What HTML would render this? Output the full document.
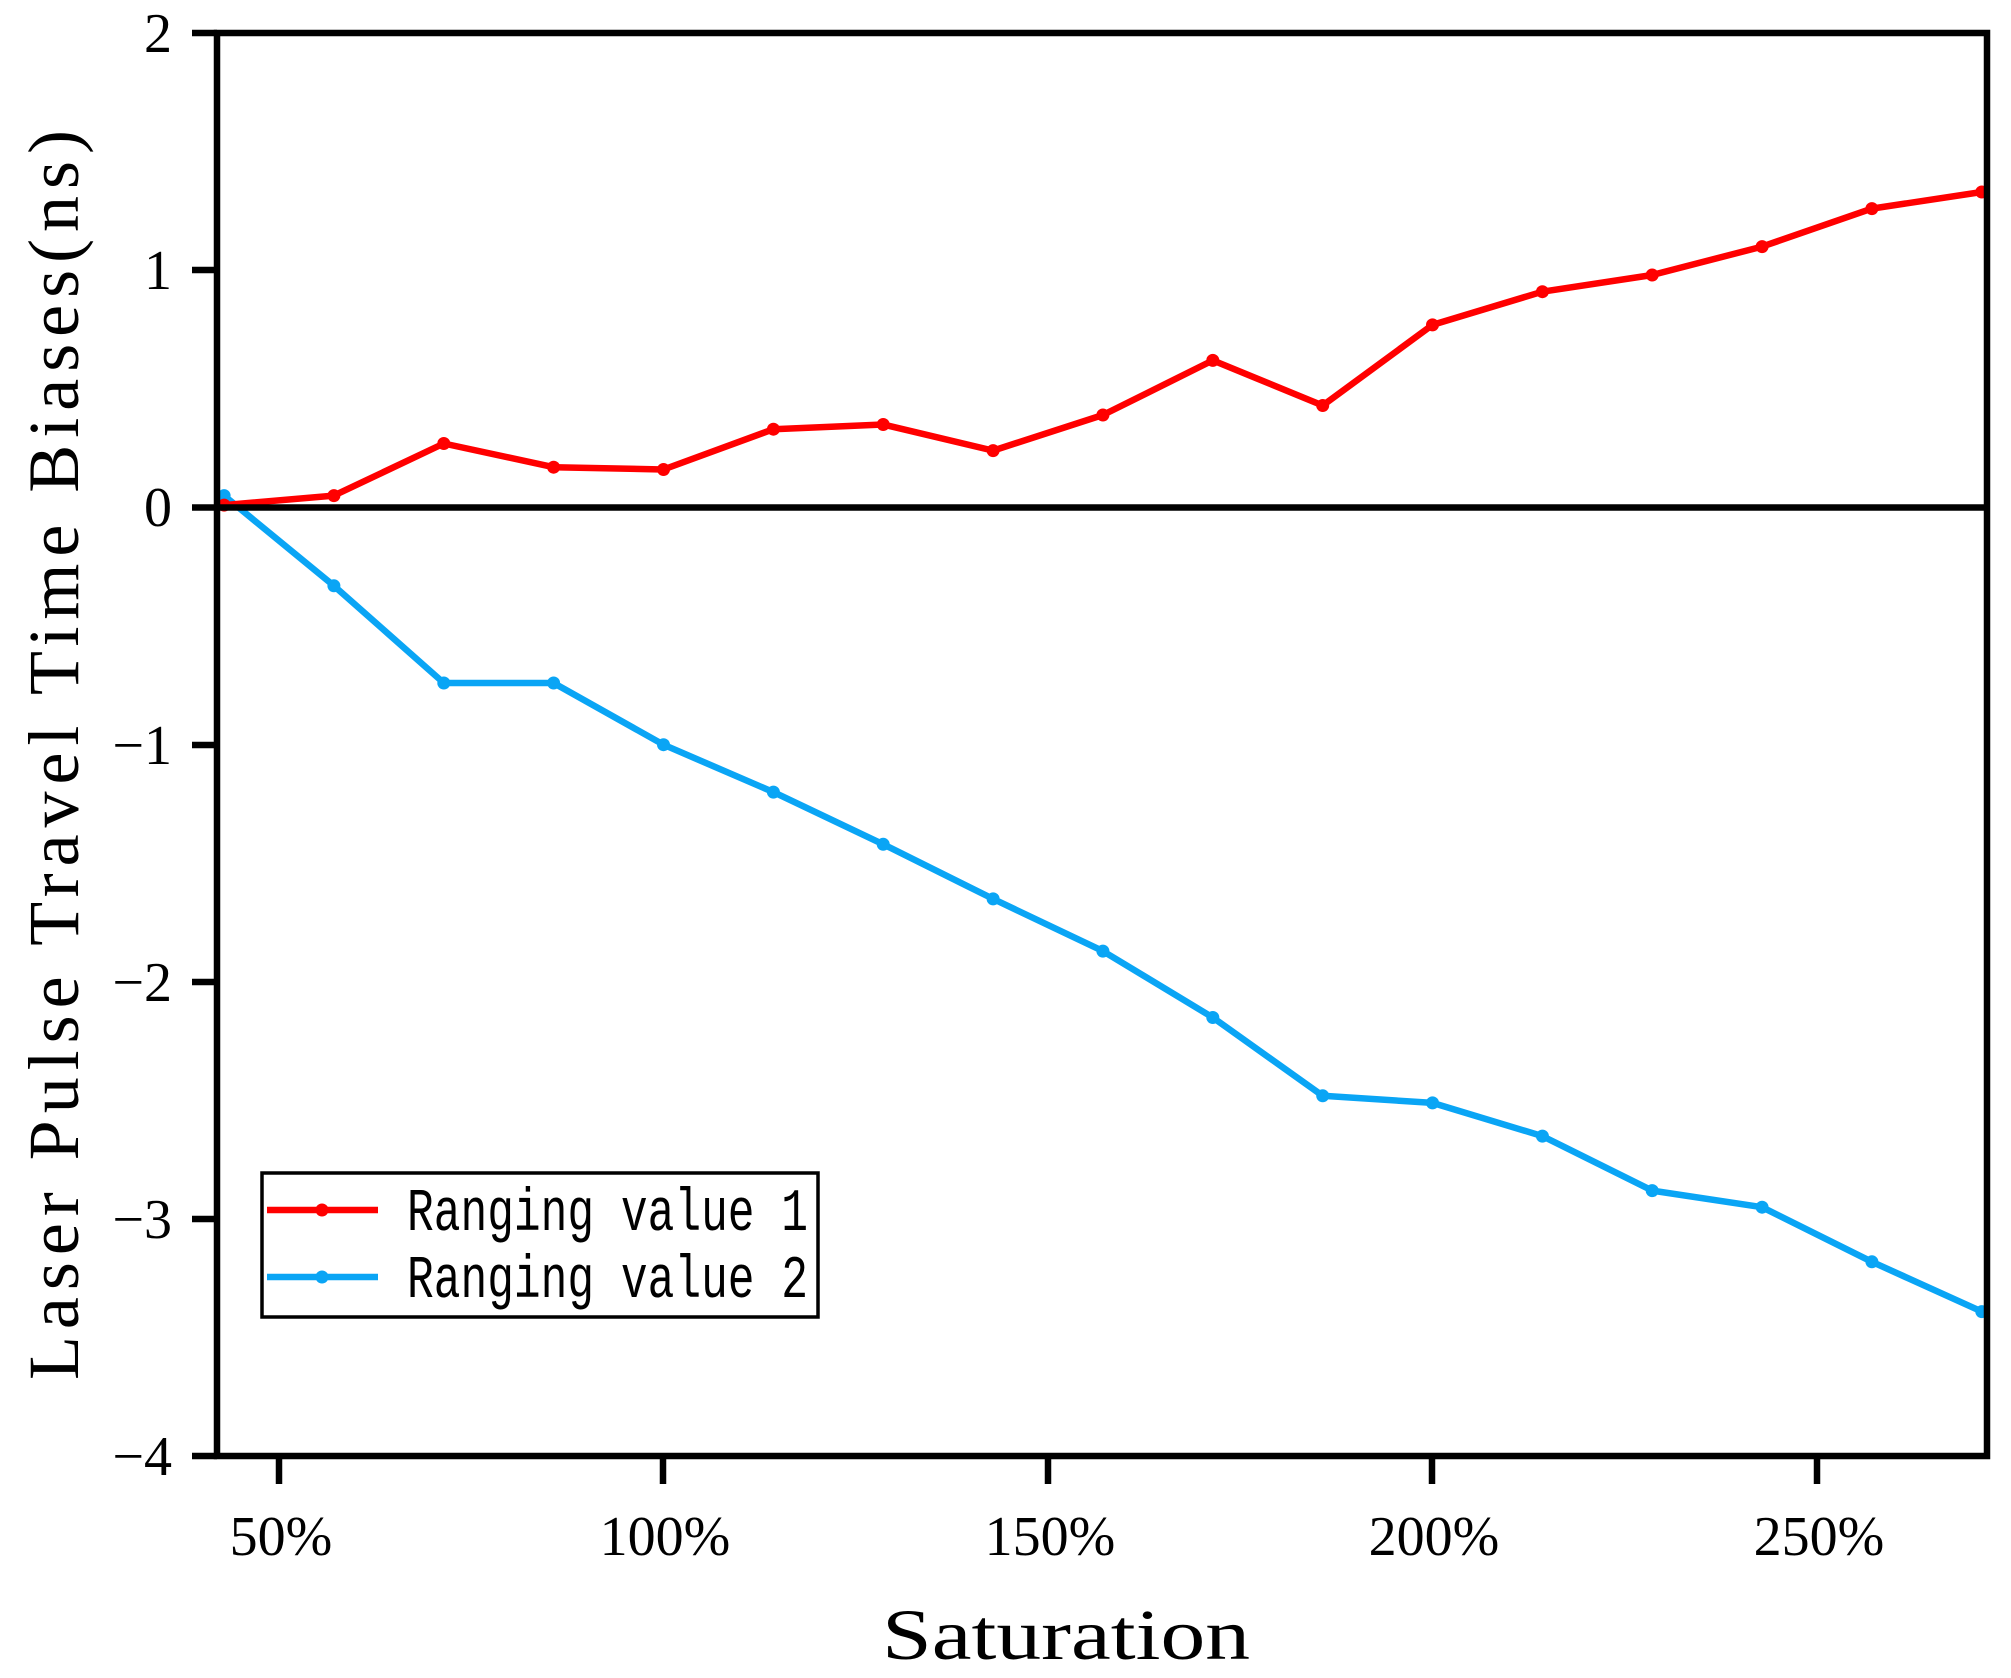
<!DOCTYPE html>
<html><head><meta charset="utf-8"><style>html,body{margin:0;padding:0;background:#fff}svg{display:block}</style></head>
<body>
<svg width="2011" height="1678" viewBox="0 0 2011 1678" xmlns="http://www.w3.org/2000/svg" font-family="Liberation Serif, serif">
<rect width="2011" height="1678" fill="#fff"/>
<g fill="none" stroke-width="6.5" stroke-linejoin="round">
<polyline stroke="#0aa5f5" points="224.1,495.6 333.9,585.8 443.8,683.0 553.6,683.0 663.5,744.7 773.4,792.1 883.2,844.3 993.1,898.9 1102.9,951.1 1212.8,1017.5 1322.7,1095.8 1432.5,1102.9 1542.4,1136.1 1652.2,1190.6 1762.1,1207.2 1871.9,1261.8 1981.8,1311.6"/>
<polyline stroke="#ff0000" points="224.1,505.1 333.9,495.6 443.8,443.5 553.6,467.2 663.5,469.5 773.4,429.2 883.2,424.5 993.1,450.6 1102.9,415.0 1212.8,360.4 1322.7,405.5 1432.5,324.9 1542.4,291.7 1652.2,275.0 1762.1,246.6 1871.9,208.6 1981.8,192.0"/>
</g>
<g fill="#0aa5f5">
<circle cx="224.1" cy="495.6" r="6.5"/><circle cx="333.9" cy="585.8" r="6.5"/><circle cx="443.8" cy="683.0" r="6.5"/><circle cx="553.6" cy="683.0" r="6.5"/><circle cx="663.5" cy="744.7" r="6.5"/><circle cx="773.4" cy="792.1" r="6.5"/><circle cx="883.2" cy="844.3" r="6.5"/><circle cx="993.1" cy="898.9" r="6.5"/><circle cx="1102.9" cy="951.1" r="6.5"/><circle cx="1212.8" cy="1017.5" r="6.5"/><circle cx="1322.7" cy="1095.8" r="6.5"/><circle cx="1432.5" cy="1102.9" r="6.5"/><circle cx="1542.4" cy="1136.1" r="6.5"/><circle cx="1652.2" cy="1190.6" r="6.5"/><circle cx="1762.1" cy="1207.2" r="6.5"/><circle cx="1871.9" cy="1261.8" r="6.5"/><circle cx="1981.8" cy="1311.6" r="6.5"/>
</g>
<g fill="#ff0000">
<circle cx="224.1" cy="505.1" r="6.5"/><circle cx="333.9" cy="495.6" r="6.5"/><circle cx="443.8" cy="443.5" r="6.5"/><circle cx="553.6" cy="467.2" r="6.5"/><circle cx="663.5" cy="469.5" r="6.5"/><circle cx="773.4" cy="429.2" r="6.5"/><circle cx="883.2" cy="424.5" r="6.5"/><circle cx="993.1" cy="450.6" r="6.5"/><circle cx="1102.9" cy="415.0" r="6.5"/><circle cx="1212.8" cy="360.4" r="6.5"/><circle cx="1322.7" cy="405.5" r="6.5"/><circle cx="1432.5" cy="324.9" r="6.5"/><circle cx="1542.4" cy="291.7" r="6.5"/><circle cx="1652.2" cy="275.0" r="6.5"/><circle cx="1762.1" cy="246.6" r="6.5"/><circle cx="1871.9" cy="208.6" r="6.5"/><circle cx="1981.8" cy="192.0" r="6.5"/>
</g>
<g stroke="#000" stroke-width="6.5" fill="none">
<rect x="217" y="33" width="1770" height="1423"/>
<line x1="217" y1="507.5" x2="1987" y2="507.5"/>
<line x1="192" y1="33" x2="217" y2="33"/>
<line x1="192" y1="270" x2="217" y2="270"/>
<line x1="192" y1="507.5" x2="217" y2="507.5"/>
<line x1="192" y1="745" x2="217" y2="745"/>
<line x1="192" y1="982" x2="217" y2="982"/>
<line x1="192" y1="1219" x2="217" y2="1219"/>
<line x1="192" y1="1456" x2="217" y2="1456"/>
<line x1="279" y1="1456" x2="279" y2="1484"/>
<line x1="663" y1="1456" x2="663" y2="1484"/>
<line x1="1048" y1="1456" x2="1048" y2="1484"/>
<line x1="1432" y1="1456" x2="1432" y2="1484"/>
<line x1="1817" y1="1456" x2="1817" y2="1484"/>
</g>
<g font-size="56" text-anchor="end" fill="#000">
<text x="172" y="52">2</text>
<text x="172" y="289">1</text>
<text x="172" y="526">0</text>
<text x="172" y="764">−1</text>
<text x="172" y="1001">−2</text>
<text x="172" y="1238">−3</text>
<text x="172" y="1475">−4</text>
</g>
<g font-size="56" text-anchor="middle" fill="#000">
<text x="281" y="1555">50%</text>
<text x="665" y="1555">100%</text>
<text x="1050" y="1555">150%</text>
<text x="1434" y="1555">200%</text>
<text x="1819" y="1555">250%</text>
</g>
<text x="882" y="1659" font-size="72" textLength="368" lengthAdjust="spacingAndGlyphs">Saturation</text>
<text transform="translate(78,1380) rotate(-90)" font-size="72" textLength="1250" lengthAdjust="spacing">Laser Pulse Travel Time Biases(ns)</text>
<rect x="262" y="1173" width="556" height="144" fill="#fff" stroke="#000" stroke-width="3.5"/>
<line x1="267" y1="1210" x2="378" y2="1210" stroke="#ff0000" stroke-width="6.5"/>
<circle cx="322" cy="1210" r="6.5" fill="#ff0000"/>
<line x1="267" y1="1277" x2="378" y2="1277" stroke="#0aa5f5" stroke-width="6.5"/>
<circle cx="322" cy="1277" r="6.5" fill="#0aa5f5"/>
<g font-size="60" font-family="Liberation Mono, monospace" fill="#000">
<text x="407" y="1230" textLength="401" lengthAdjust="spacingAndGlyphs">Ranging value 1</text>
<text x="407" y="1297" textLength="401" lengthAdjust="spacingAndGlyphs">Ranging value 2</text>
</g>
</svg>
</body></html>
